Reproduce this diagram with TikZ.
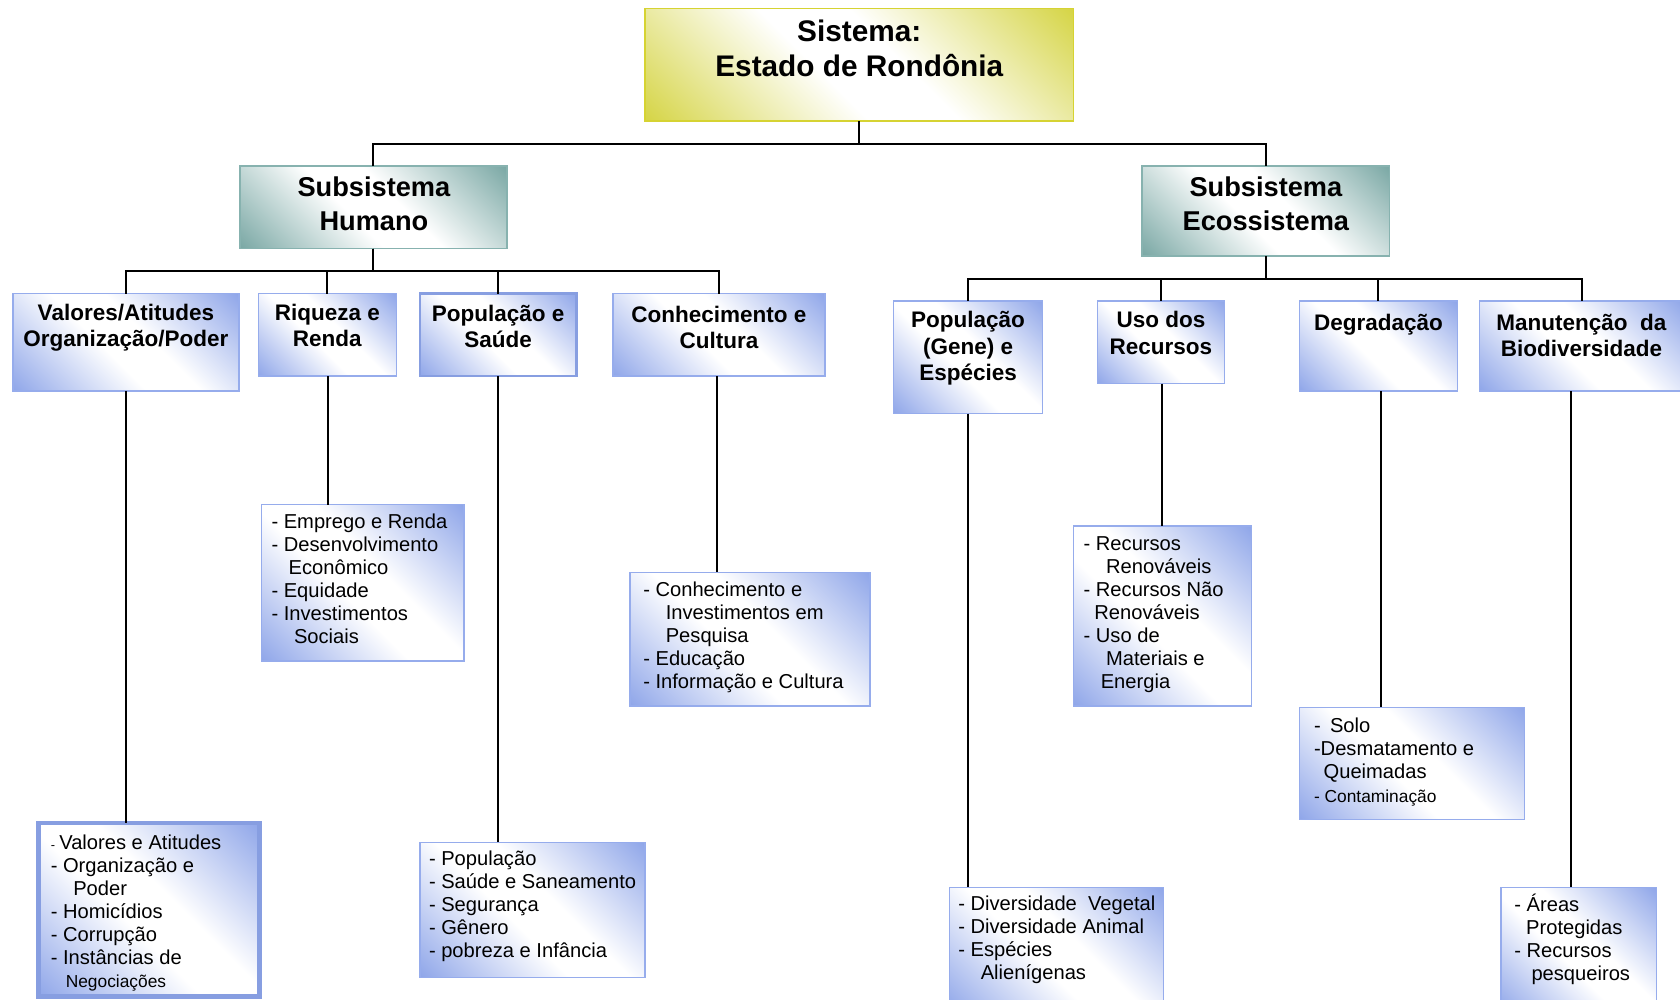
\documentclass[tikz,border=0pt]{standalone}
\usepackage{fontspec}
\setmainfont{Liberation Sans}
\usetikzlibrary{calc}
\newlength\px \setlength\px{0.5pt}
\definecolor{bl}{RGB}{118,146,228}
\definecolor{blb}{RGB}{150,172,236}
\definecolor{blt}{RGB}{135,158,225}
\definecolor{yl}{RGB}{204,203,28}
\definecolor{ylb}{RGB}{214,211,50}
\definecolor{tl}{RGB}{92,148,144}
\definecolor{tlb}{RGB}{135,178,175}
\pgfdeclarehorizontalshading{blueD}{100bp}{color(0bp)=(bl); color(8bp)=(bl); color(44bp)=(white); color(56bp)=(white); color(92bp)=(bl); color(100bp)=(bl)}
\pgfdeclarehorizontalshading{yelD}{100bp}{color(0bp)=(yl); color(8bp)=(yl); color(44bp)=(white); color(56bp)=(white); color(92bp)=(yl); color(100bp)=(yl)}
\pgfdeclarehorizontalshading{tealD}{100bp}{color(0bp)=(tl); color(8bp)=(tl); color(44bp)=(white); color(56bp)=(white); color(92bp)=(tl); color(100bp)=(tl)}
\newcommand\bx[6]{\node[#1, minimum width={(#5-#3)*0.5pt}, minimum height={(#6-#4)*0.5pt}] (#2) at ({(#3+#5)/2},{(#4+#6)/2}) {};}
\tikzset{
  conn/.style={line width=1pt, black},
  basebox/.style={rectangle, inner sep=0pt, outer sep=0pt, shading angle=45},
  bbox/.style={basebox, draw=blb, line width=0.6pt, shading=blueD},
  bboxthick/.style={basebox, draw=blt, line width=1.3pt, shading=blueD},
  bboxheavy/.style={basebox, draw=blt, line width=2.2pt, shading=blueD},
  ybox/.style={basebox, draw=ylb, line width=0.7pt, shading=yelD},
  tbox/.style={basebox, draw=tlb, line width=0.7pt, shading=tealD},
  head/.style={font=\fontsize{10.5}{12.3}\selectfont\bfseries, align=center, inner sep=0pt, anchor=north},
  subtxt/.style={font=\fontsize{12.7}{15.5}\selectfont\bfseries, align=center, inner sep=0pt, anchor=north},
  leaf/.style={font=\fontsize{9.4}{10.75}\selectfont, align=left, inner sep=0pt, anchor=north west},
}
\newcommand\sm{\fontsize{8.1}{10.75}\selectfont}
\begin{document}
\begin{tikzpicture}[x=0.5pt,y=-0.5pt]
\useasboundingbox (0,0) rectangle (1568,933);
% coordinates for the bars
\coordinate (barT) at (0,134);
\coordinate (barH) at (0,253);
\coordinate (barE) at (0,260);
% boxes
\bx{ybox}{title}{602}{8}{1002}{113}
\bx{tbox}{subH}{224}{155}{473}{232}
\bx{tbox}{subE}{1066}{155}{1297}{239}
\bx{bbox}{hVal}{12}{274}{223}{365}
\bx{bbox}{hRiq}{241}{274}{370}{351}
\bx{bboxthick}{hPop}{392}{274}{538}{351}
\bx{bbox}{hCon}{572}{274}{770}{351}
\bx{bbox}{hGen}{834}{281}{973}{386}
\bx{bbox}{hUso}{1024}{281}{1143}{358}
\bx{bbox}{hDeg}{1213}{281}{1360}{365}
\bx{bbox}{hMan}{1381}{281}{1572}{365}
\bx{bboxheavy}{lVal}{36}{768}{242}{930}
\bx{bbox}{lRiq}{244}{471}{433}{617}
\bx{bbox}{lPop}{392}{786}{602}{912}
\bx{bbox}{lCon}{588}{534}{812}{659}
\bx{bbox}{lGen}{886}{828}{1086}{945}
\bx{bbox}{lUso}{1002}{491}{1168}{659}
\bx{bbox}{lDeg}{1213}{660}{1423}{765}
\bx{bbox}{lMan}{1401}{828}{1546}{945}
% connectors
\draw[conn] (title.south) -- (title.south |- barT) -| (subH.north);
\draw[conn] (title.south) -- (title.south |- barT) -| (subE.north);
\foreach \n in {hVal,hRiq,hPop,hCon}{\draw[conn] (subH.south) -- (subH.south |- barH) -| (\n.north);}
\foreach \n in {hGen,hUso,hDeg,hMan}{\draw[conn] (subE.south) -- (subE.south |- barE) -| (\n.north);}
\draw[conn] (hVal.south) -- (hVal.south |- lVal.north);
\draw[conn] ([xshift=1\px]hRiq.south) -- ([xshift=1\px]hRiq.south |- lRiq.north);
\draw[conn] (hPop.south) -- (hPop.south |- lPop.north);
\draw[conn] ([xshift=-2\px]hCon.south) -- ([xshift=-2\px]hCon.south |- lCon.north);
\draw[conn] (hGen.south) -- (hGen.south |- lGen.north);
\draw[conn] ([xshift=1\px]hUso.south) -- ([xshift=1\px]hUso.south |- lUso.north);
\draw[conn] ([xshift=2.5\px]hDeg.south) -- ([xshift=2.5\px]hDeg.south |- lDeg.north);
\draw[conn] ([xshift=-10\px]hMan.south) -- ([xshift=-10\px]hMan.south |- lMan.north);
% texts
\node[font=\fontsize{13.9}{16.5}\selectfont\bfseries, align=center, inner sep=0pt, anchor=north] (tTitle) at (802,18) {Sistema:\\Estado de Rondônia};
\node[subtxt] (tSubH) at (349,165) {Subsistema\\Humano};
\node[subtxt] (tSubE) at (1181.5,165) {Subsistema\\Ecossistema};
\node[head] (tVal) at (117.5,283.5) {Valores/Atitudes\\Organização/Poder};
\node[head] (tRiq) at (305.5,283.5) {Riqueza e\\Renda};
\node[head] (tPop) at (465,284.5) {População e\\Saúde};
\node[head] (tCon) at (671,285.5) {Conhecimento e\\Cultura};
\node[head] (tGen) at (903.5,290.5) {População\\(Gene) e\\Espécies};
\node[head] (tUso) at (1083.5,290.5) {Uso dos\\Recursos};
\node[head] (tDeg) at (1286.5,292.5) {Degradação};
\node[head] (tMan) at (1476,292.5) {Manutenção\ \ da\\Biodiversidade};
\node[leaf] (xVal) at (47,779) {{\fontsize{6}{6}\selectfont-}\hspace*{4\px}Valores e Atitudes\\- Organização e\\\hspace*{21\px}Poder\\- Homicídios\\- Corrupção\\- Instâncias de\\\hspace*{14\px}{\sm Negociações}};
\node[leaf] (xRiq) at (253,479) {- Emprego e Renda\\- Desenvolvimento\\\hspace*{16\px}Econômico\\- Equidade\\- Investimentos\\\hspace*{21\px}Sociais};
\node[leaf] (xPop) at (400,794) {- População\\- Saúde e Saneamento\\- Segurança\\- Gênero\\- pobreza e Infância};
\node[leaf] (xCon) at (600,543) {- Conhecimento e\\\hspace*{21\px}Investimentos em\\\hspace*{21\px}Pesquisa\\- Educação\\- Informação e Cultura};
\node[leaf] (xUso) at (1011,500) {- Recursos\\\hspace*{21\px}Renováveis\\- Recursos Não\\\hspace*{10\px}Renováveis\\- Uso de\\\hspace*{21\px}Materiais e\\\hspace*{16\px}Energia};
\node[leaf] (xDeg) at (1226,670) {-\hspace*{8.7\px}Solo\\-Desmatamento e\\\hspace*{9\px}Queimadas\\{\sm - Contaminação}};
\node[leaf] (xGen) at (894,836) {- Diversidade\ \ Vegetal\\- Diversidade Animal\\- Espécies\\\hspace*{21\px}Alienígenas};
\node[leaf] (xMan) at (1413,834) {- Áreas\\\hspace*{11\px}Protegidas\\- Recursos\\\hspace*{16\px}pesqueiros};
\end{tikzpicture}
\end{document}
